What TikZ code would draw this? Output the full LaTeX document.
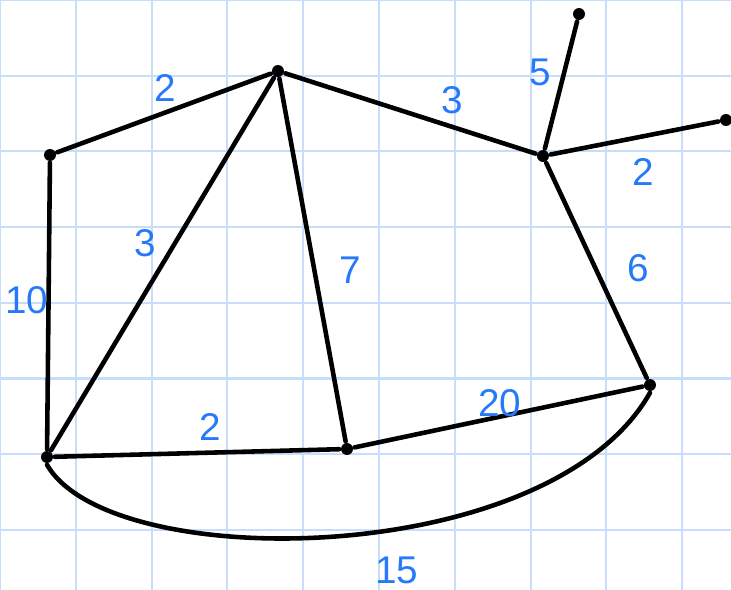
\documentclass[tikz,border=0pt]{standalone}
\usepackage{fontspec}
\setsansfont{Liberation Sans}
\definecolor{gridblue}{RGB}{200,221,250}
\definecolor{inkblue}{RGB}{38,122,250}

\begin{document}
\begin{tikzpicture}[
  x=0.2mm, y=-0.2mm,
  gridline/.style={gridblue, line width=1.2pt},
  vertex/.style={circle, fill=black, minimum size=6.8pt, inner sep=0pt, outer sep=1pt},
  link/.style={line width=2.6pt, line cap=round},
  wt/.style={text=inkblue, font=\sffamily\fontsize{22}{24}\selectfont, inner sep=1pt}
]

\useasboundingbox (0,0) rectangle (731,590);
\foreach \i in {0,...,9} { \draw[gridline] (\i*75.8,0) -- (\i*75.8,590); }
\foreach \j in {0,...,7} { \draw[gridline] (0,\j*75.7) -- (731,\j*75.7); }

\node[vertex] (a) at (50,155) {};
\node[vertex] (b) at (278,71) {};
\node[vertex] (c) at (543,156) {};
\node[vertex] (d) at (579,14) {};
\node[vertex] (e) at (726,120) {};
\node[vertex] (f) at (47,457) {};
\node[vertex] (g) at (347,449) {};
\node[vertex] (h) at (650,385) {};

\draw[link] (a) -- (b);
\draw[link] (b) -- (c);
\draw[link] (c) -- (d);
\draw[link] (c) -- (e);
\draw[link] (a) -- (f);
\draw[link] (b) -- (f);
\draw[link] (b) -- (g);
\draw[link] (c) -- (h);
\draw[link] (f) -- (g);
\draw[link] (g) -- (h);
\draw[link] (f.south) .. controls (110,575) and (550,570) .. (h.south);

\node[wt] (wab) at (165,88) {2};
\node[wt] (wbc) at (452,100) {3};
\node[wt] (wcd) at (540,72) {5};
\node[wt] (wce) at (643,172) {2};
\node[wt] (waf) at (27,300) {10};
\node[wt] (wbf) at (145,243) {3};
\node[wt] (wbg) at (350,270) {7};
\node[wt] (wch) at (638,268) {6};
\node[wt] (wfg) at (210,427) {2};
\node[wt] (wgh) at (500,403) {20};
\node[wt] (wfh) at (397,570) {15};

\end{tikzpicture}
\end{document}
